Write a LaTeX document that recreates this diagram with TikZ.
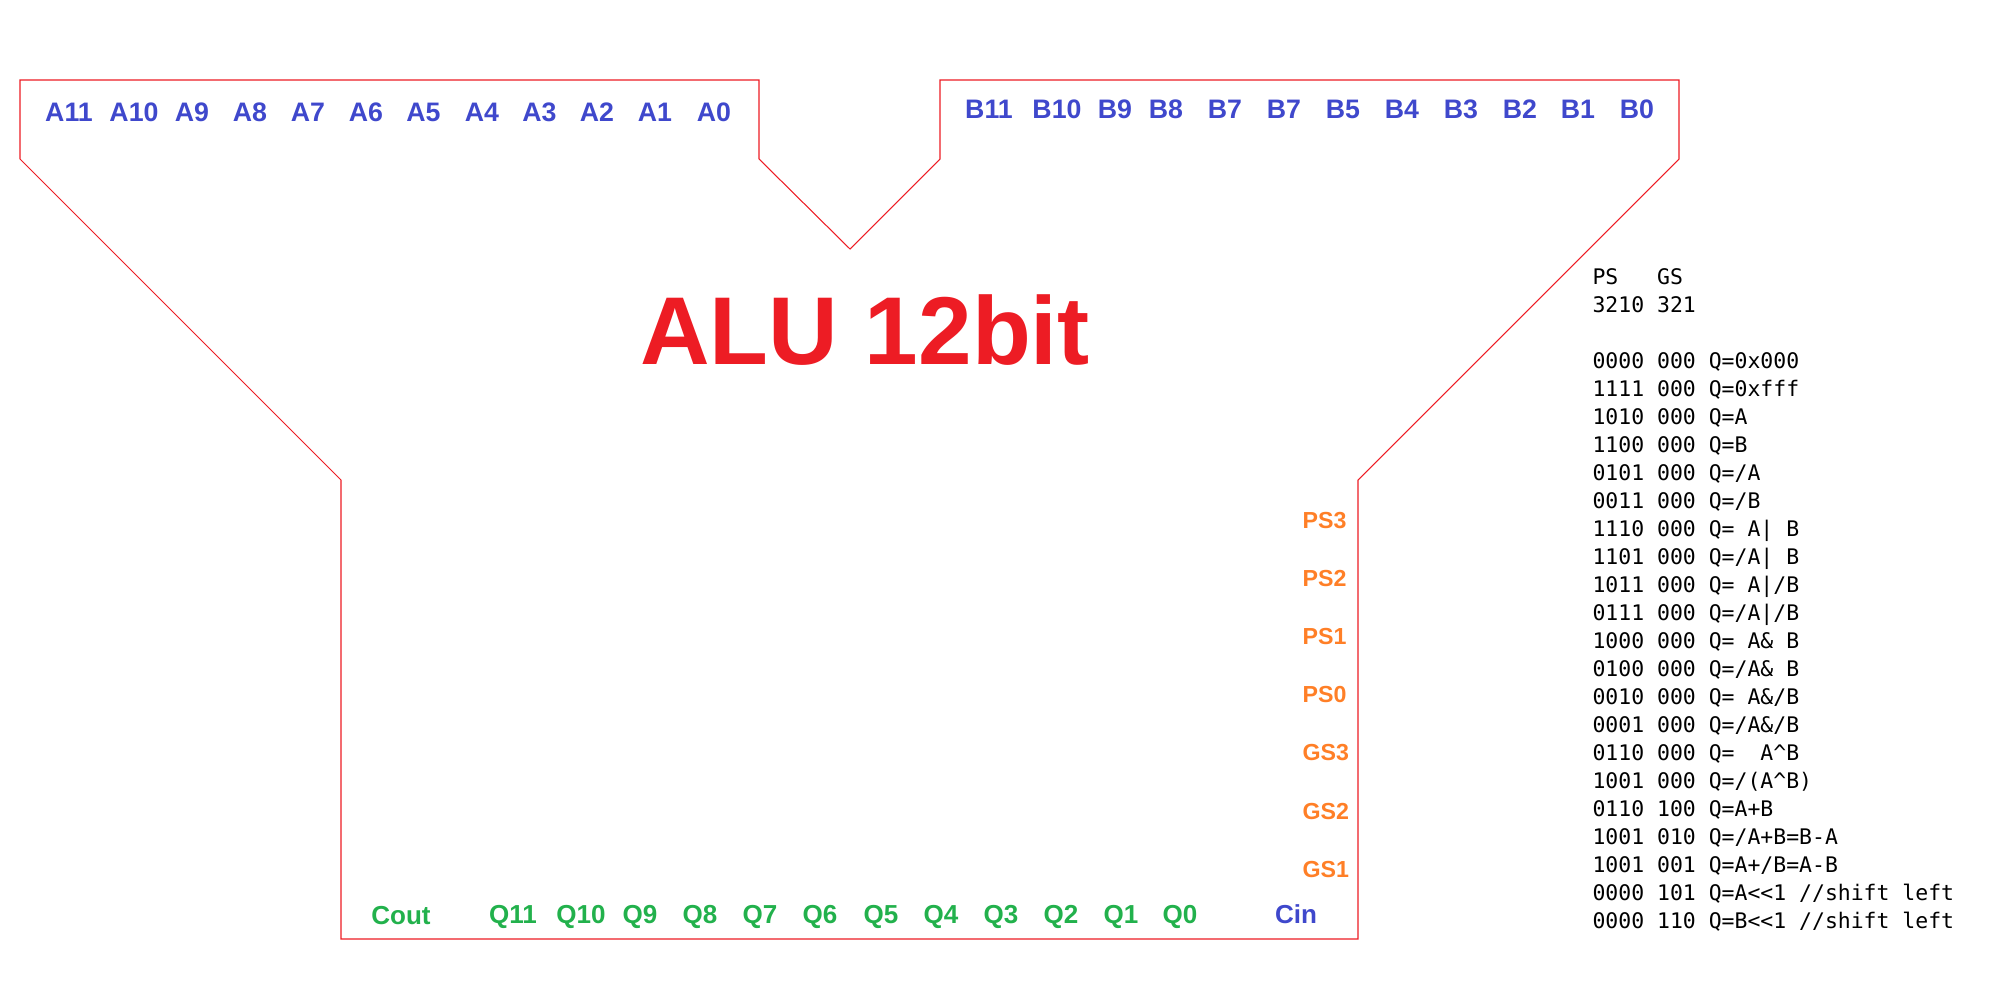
\documentclass[tikz,border=0pt]{standalone}
\usepackage{fontspec}
\setmainfont{Liberation Sans}
\setmonofont{DejaVu Sans Mono}
\definecolor{alured}{RGB}{237,28,36}
\definecolor{pinblue}{RGB}{63,72,204}
\definecolor{pingreen}{RGB}{34,177,76}
\definecolor{pinorange}{RGB}{255,127,39}
\tikzset{
  inlabel/.style={font=\bfseries\fontsize{7.6}{8}\selectfont,text=pinblue,inner sep=0pt,anchor=base},
  outlabel/.style={font=\bfseries\fontsize{7.4}{8}\selectfont,text=pingreen,inner sep=0pt,anchor=base},
  ctrllabel/.style={font=\bfseries\fontsize{6.6}{7}\selectfont,text=pinorange,inner sep=0pt,anchor=base west},
  tablerow/.style={font=\ttfamily\fontsize{6.1}{7}\selectfont,inner sep=0pt,anchor=base west}
}
\begin{document}
\begin{tikzpicture}[x=0.01cm,y=-0.01cm,line width=0.3pt]
  \useasboundingbox (0,0) rectangle (2000,1000);
  % --- outline of the ALU body ---
  \coordinate (TL) at (20,80);
  \coordinate (LA) at (20,159);
  \coordinate (LB) at (341,480);
  \coordinate (BL) at (341,939);
  \coordinate (BR) at (1358,939);
  \coordinate (RB) at (1358,480);
  \coordinate (RA) at (1679,159);
  \coordinate (TR) at (1679,80);
  \coordinate (BTL) at (940,80);
  \coordinate (BBL) at (940,159);
  \coordinate (V) at (850,249);   % notch between the two inputs
  \coordinate (ABR) at (759,159);
  \coordinate (ATR) at (759,80);
  \draw[alured] (TL)--(LA)--(LB)--(BL)--(BR)--(RB)--(RA)--(TR)--(BTL)--(BBL)--(V)--(ABR)--(ATR)--cycle;
  % --- title ---
  \node[font=\bfseries\fontsize{27.4}{30}\selectfont,text=alured,inner sep=0pt,anchor=base] (title) at (865,364) {ALU 12bit};
  % --- operand A ---
  \foreach \lbl/\px in {A11/69,A10/134,A9/192,A8/250,A7/308,A6/366,A5/423.5,A4/482,A3/539.5,A2/597,A1/655,A0/714}
    \node[inlabel] (\lbl) at (\px,121) {\lbl};
  % --- operand B ---
  \foreach \lbl/\px [count=\i] in {B11/989,B10/1057,B9/1115,B8/1166,B7/1225,B7/1284,B5/1343,B4/1402,B3/1461,B2/1520,B1/1578,B0/1637}
    \node[inlabel] (b\i) at (\px,118) {\lbl};
  % --- result and carries ---
  \node[outlabel] (Cout) at (401,924) {Cout};
  \foreach \lbl/\px in {Q11/513,Q10/581,Q9/640,Q8/700,Q7/760,Q6/820,Q5/881,Q4/941,Q3/1001,Q2/1061,Q1/1121,Q0/1180}
    \node[outlabel] (\lbl) at (\px,923) {\lbl};
  \node[inlabel,font=\bfseries\fontsize{7.4}{8}\selectfont] (Cin) at (1296,923) {Cin};
  % --- function select ---
  \foreach \lbl [count=\i from 0] in {PS3,PS2,PS1,PS0,GS3,GS2,GS1}
    \node[ctrllabel] (\lbl) at (1302,{528+58.2*\i}) {\lbl};
  % --- function table ---
  \node[tablerow] (hdr1) at (1592,284.7) {PS~~~GS};
  \node[tablerow] (hdr2) at (1592,312.7) {3210 321};
  \foreach \txt [count=\i from 0] in {
    {0000 000 Q=0x000},{1111 000 Q=0xfff},{1010 000 Q=A},{1100 000 Q=B},
    {0101 000 Q=/A},{0011 000 Q=/B},{1110 000 Q= A| B},{1101 000 Q=/A| B},
    {1011 000 Q= A|/B},{0111 000 Q=/A|/B},{1000 000 Q= A\& B},{0100 000 Q=/A\& B},
    {0010 000 Q= A\&/B},{0001 000 Q=/A\&/B},{0110 000 Q=~~A\textasciicircum B},
    {1001 000 Q=/(A\textasciicircum B)},{0110 100 Q=A+B},{1001 010 Q=/A+B=B-A},
    {1001 001 Q=A+/B=A-B},{0000 101 Q=A<<1 //shift left},{0000 110 Q=B<<1 //shift left}}
    \node[tablerow] (row\i) at (1592,{368.7+28*\i}) {\txt};
\end{tikzpicture}
\end{document}
